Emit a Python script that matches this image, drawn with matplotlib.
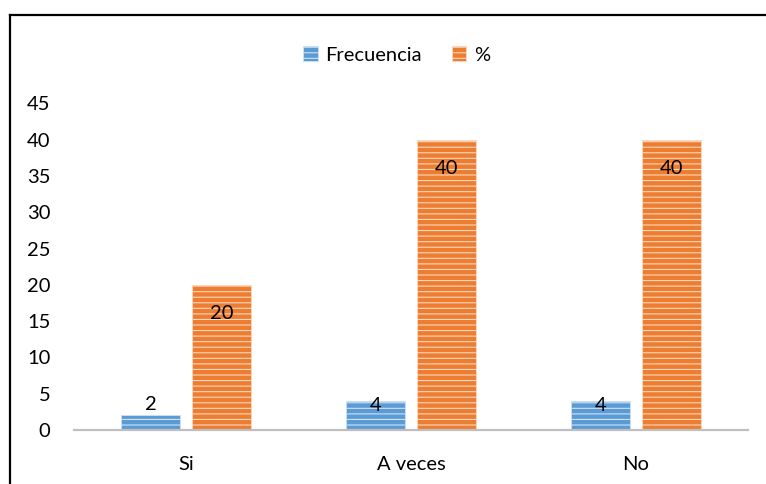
import matplotlib
matplotlib.use("Agg")
import matplotlib.pyplot as plt
from matplotlib.lines import Line2D
import numpy as np

categories = ["Si", "A veces", "No"]
frecuencia = [2, 4, 4]
porcentaje = [20, 40, 40]
yticks = [0, 5, 10, 15, 20, 25, 30, 35, 40, 45]

plt.rcParams["font.family"] = ["Lato", "DejaVu Sans"]
plt.rcParams["hatch.linewidth"] = 0.8
FS = 14.5

W, H = 766, 484
fig = plt.figure(figsize=(W / 100, H / 100), dpi=100)
ax = fig.add_axes([74 / W, 1 - 430 / H, 674 / W, (430 - 103.4) / H])

x = np.arange(len(categories))
bw = 0.263
off = 0.158

blue = "#5B9BD5"
orange = "#ED7D31"
b1 = ax.bar(x - off, frecuencia, bw, color=blue, edgecolor="#cfe1f3",
            linewidth=0.6, hatch="---", label="Frecuencia", zorder=2)
b2 = ax.bar(x + off, porcentaje, bw, color=orange, edgecolor="#fbd8c0",
            linewidth=0.6, hatch="---", label="%", zorder=2)

# data labels
blue_offsets = [11, -5, -5]
for xi, v, o in zip(x - off, frecuencia, blue_offsets):
    ax.annotate(str(v), (xi, v), xytext=(0, o), textcoords="offset pixels",
                ha="center", va="center", fontsize=FS, color="black", zorder=3)
for xi, v in zip(x + off, porcentaje):
    ax.annotate(str(v), (xi, v), xytext=(0, -29), textcoords="offset pixels",
                ha="center", va="center", fontsize=FS, color="black", zorder=3)

ax.set_xlim(-0.5, 2.5)
ax.set_ylim(0, 45)
ax.set_yticks(yticks)
ax.set_xticks(x)
ax.set_xticklabels(categories)
ax.tick_params(axis="both", length=0, labelsize=FS, colors="black")
ax.tick_params(axis="y", pad=17)
ax.tick_params(axis="x", pad=19)
for s in ["top", "right", "left"]:
    ax.spines[s].set_visible(False)
ax.spines["bottom"].set_color("#bfbfbf")
ax.spines["bottom"].set_linewidth(1.6)
ax.spines["bottom"].set_zorder(4)

leg = fig.legend(handles=[b1, b2], labels=["Frecuencia", "%"], loc="center",
                 bbox_to_anchor=(397 / W, 1 - 55 / H), ncol=2, frameon=False,
                 fontsize=FS, handlelength=0.7, handleheight=0.7,
                 handletextpad=0.4, columnspacing=1.5)

# outer frame (left and top edges)
fig.add_artist(Line2D([9.5 / W, 9.5 / W], [0, 1 - 14.5 / H], color="black",
                      lw=1.6, transform=fig.transFigure))
fig.add_artist(Line2D([9.5 / W, 1], [1 - 14.5 / H, 1 - 14.5 / H], color="black",
                      lw=1.6, transform=fig.transFigure))

fig.savefig("out.png", dpi=100)
